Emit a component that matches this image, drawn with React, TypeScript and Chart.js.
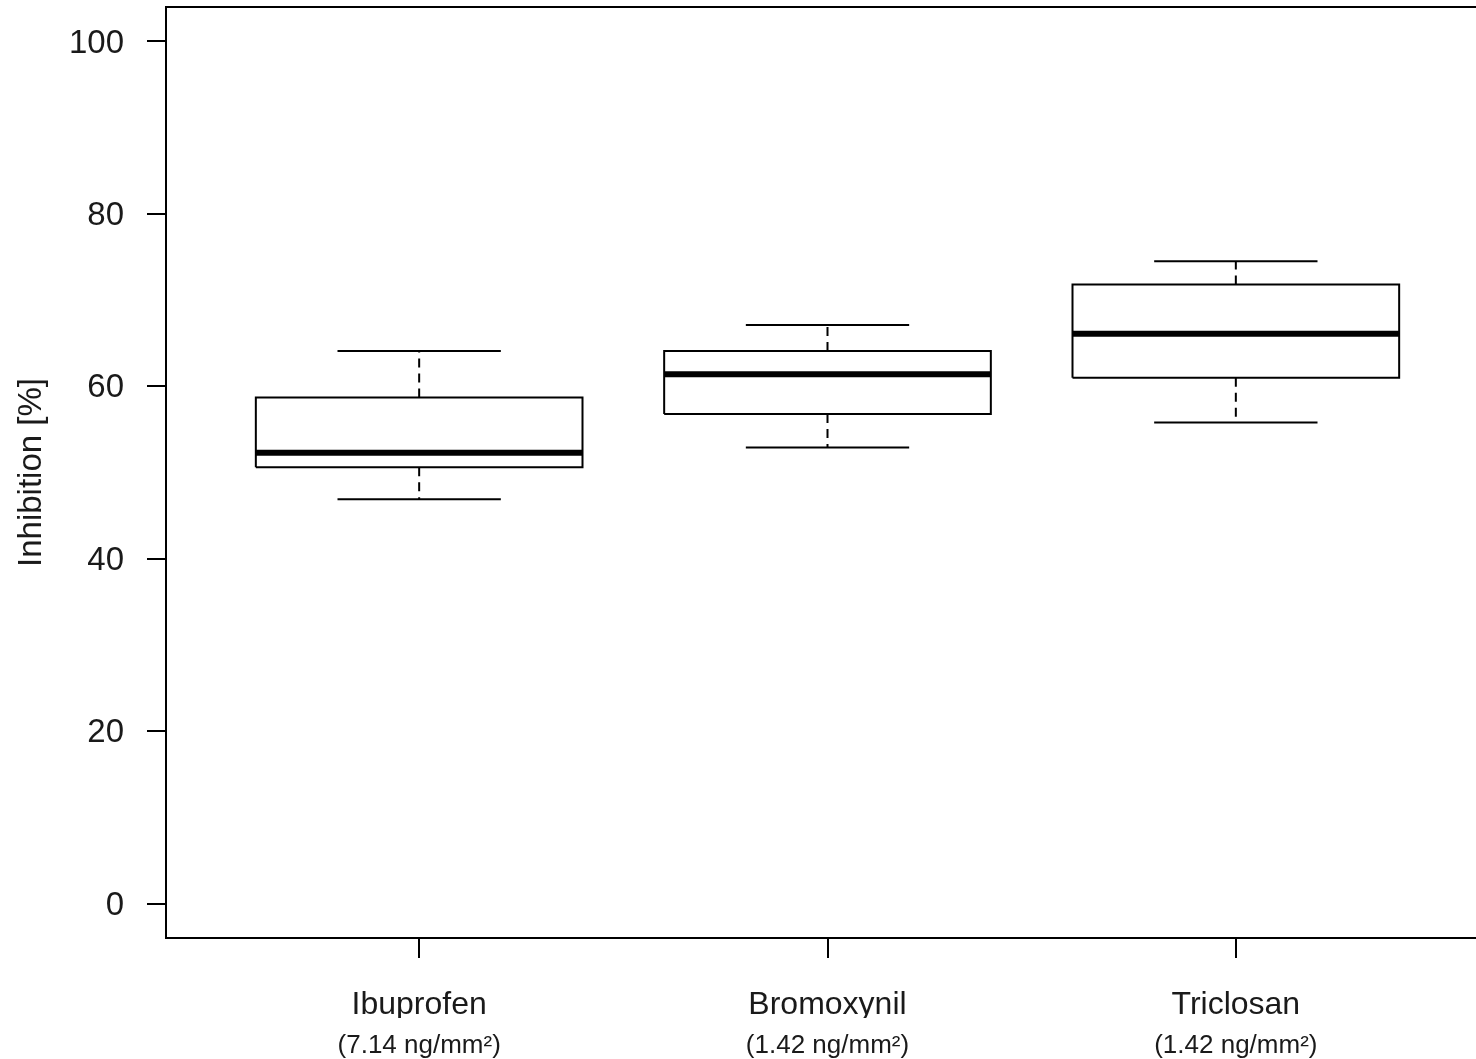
import React, { useEffect, useRef } from "react";
import { Chart, registerables } from "chart.js";

Chart.register(...registerables);

// ---- data ----
const CATEGORIES = ["Ibuprofen", "Bromoxynil", "Triclosan"];
const DOSES = ["(7.14 ng/mm²)", "(1.42 ng/mm²)", "(1.42 ng/mm²)"];
const POSITIONS = [1, 2, 3];
const WHISKER_LOW = [46.9, 52.9, 55.8];
const Q1 = [50.6, 56.8, 61.0];
const MEDIAN = [52.3, 61.4, 66.1];
const Q3 = [58.7, 64.1, 71.8];
const WHISKER_HIGH = [64.1, 67.1, 74.5];
const Y_TICKS = [0, 20, 40, 60, 80, 100];

// ---- style ----
const BOX_HALF = 0.4;
const CAP_HALF = 0.2;
const FONT = "'Liberation Sans', Arial, Helvetica, sans-serif";
const INK = "#1a1a1a";

function seg(points: { x: number; y: number }[], width: number, dash: number[] = []) {
  return {
    type: "line" as const,
    data: points,
    borderColor: "#000",
    backgroundColor: "#000",
    borderWidth: width,
    borderDash: dash,
    borderCapStyle: "butt" as const,
    borderJoinStyle: "miter" as const,
    pointRadius: 0,
    pointHoverRadius: 0,
    fill: false,
    tension: 0,
  };
}

function buildDatasets() {
  const ds: any[] = [];
  POSITIONS.forEach((p, i) => {
    // dashed whiskers
    ds.push(seg([{ x: p, y: Q3[i] }, { x: p, y: WHISKER_HIGH[i] }], 2, [9, 6]));
    ds.push(seg([{ x: p, y: Q1[i] }, { x: p, y: WHISKER_LOW[i] }], 2, [9, 6]));
    // staples
    ds.push(seg([{ x: p - CAP_HALF, y: WHISKER_HIGH[i] }, { x: p + CAP_HALF, y: WHISKER_HIGH[i] }], 2));
    ds.push(seg([{ x: p - CAP_HALF, y: WHISKER_LOW[i] }, { x: p + CAP_HALF, y: WHISKER_LOW[i] }], 2));
    // box
    ds.push(
      seg(
        [
          { x: p - BOX_HALF, y: Q1[i] },
          { x: p + BOX_HALF, y: Q1[i] },
          { x: p + BOX_HALF, y: Q3[i] },
          { x: p - BOX_HALF, y: Q3[i] },
          { x: p - BOX_HALF, y: Q1[i] },
        ],
        2
      )
    );
    // median
    ds.push(seg([{ x: p - BOX_HALF, y: MEDIAN[i] }, { x: p + BOX_HALF, y: MEDIAN[i] }], 6));
  });
  return ds;
}

const framePlugin = {
  id: "frame",
  afterDatasetsDraw(chart: any) {
    const { ctx, chartArea: a } = chart;
    ctx.save();
    ctx.strokeStyle = "#000";
    ctx.lineWidth = 2;
    ctx.strokeRect(a.left, a.top, a.right - a.left, a.bottom - a.top);
    ctx.restore();
  },
};

export default function App() {
  const ref = useRef<HTMLCanvasElement | null>(null);

  useEffect(() => {
    if (!ref.current) return;
    const xTicks = (s: any) => {
      s.ticks = POSITIONS.map((v) => ({ value: v }));
    };
    const chart = new Chart(ref.current, {
      type: "line",
      data: { datasets: buildDatasets() },
      plugins: [framePlugin],
      options: {
        responsive: false,
        animation: false,
        devicePixelRatio: 1,
        events: [],
        parsing: false as any,
        layout: { padding: { left: 0, top: 7, right: 11, bottom: 0 } },
        plugins: {
          legend: { display: false },
          tooltip: { enabled: false },
        },
        scales: {
          x: {
            type: "linear",
            position: "bottom",
            weight: 0,
            min: 0.38,
            max: 3.62,
            afterBuildTicks: xTicks,
            afterFit: (s: any) => {
              s.height = 80;
              s.paddingLeft = 0;
              s.paddingRight = 0;
            },
            grid: { drawOnChartArea: false, drawTicks: true, tickLength: 20, color: "#000", lineWidth: 2 },
            border: { display: false },
            ticks: {
              autoSkip: false,
              maxRotation: 0,
              padding: 28,
              color: INK,
              font: { family: FONT, size: 32 },
              callback: (_v: any, i: number) => CATEGORIES[i],
            },
          },
          x2: {
            type: "linear",
            position: "bottom",
            weight: 1,
            min: 0.38,
            max: 3.62,
            afterBuildTicks: xTicks,
            afterFit: (s: any) => {
              s.height = 41;
              s.paddingLeft = 0;
              s.paddingRight = 0;
            },
            grid: { display: false, drawTicks: false, drawOnChartArea: false },
            border: { display: false },
            ticks: {
              autoSkip: false,
              maxRotation: 0,
              padding: 12,
              color: INK,
              font: { family: FONT, size: 26 },
              callback: (_v: any, i: number) => DOSES[i],
            },
          },
          y: {
            type: "linear",
            position: "left",
            min: -4,
            max: 104,
            afterBuildTicks: (s: any) => {
              s.ticks = Y_TICKS.map((v) => ({ value: v }));
            },
            afterFit: (s: any) => {
              s.width = 166;
              s.paddingTop = 0;
              s.paddingBottom = 0;
            },
            grid: { drawOnChartArea: false, drawTicks: true, tickLength: 19, color: "#000", lineWidth: 2 },
            border: { display: false },
            ticks: {
              padding: 23,
              labelOffset: 2,
              color: INK,
              font: { family: FONT, size: 33 },
              callback: (v: any) => String(v),
            },
            title: {
              display: true,
              text: "Inhibition [%]",
              color: INK,
              font: { family: FONT, size: 33 },
              padding: { top: 12, bottom: 0 },
            },
          },
        },
      } as any,
    });
    return () => chart.destroy();
  }, []);

  return (
    <div
      style={{
        position: "fixed",
        left: 0,
        top: 0,
        width: 1476,
        height: 1059,
        overflow: "hidden",
        background: "#fff",
      }}
    >
      <canvas ref={ref} width={1500} height={1059} style={{ display: "block" }} />
    </div>
  );
}
